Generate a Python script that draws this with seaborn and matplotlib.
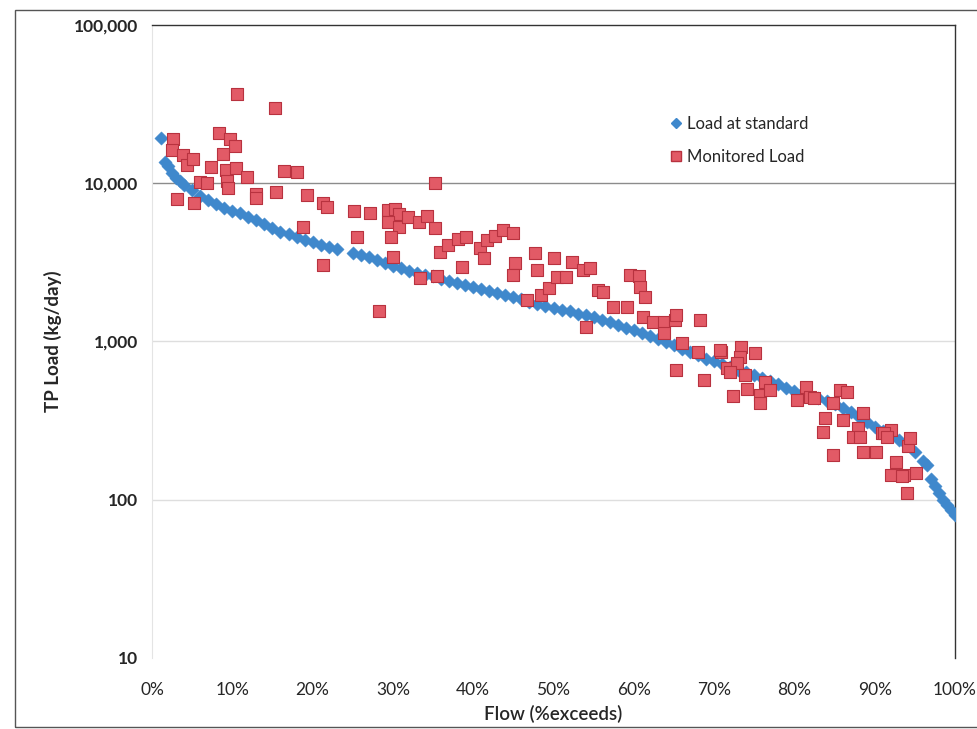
import matplotlib
matplotlib.use("Agg")
import matplotlib.pyplot as plt
import seaborn as sns
import pandas as pd
from matplotlib.patches import Rectangle
from matplotlib.ticker import FixedLocator, FuncFormatter, NullLocator
from matplotlib.lines import Line2D

# Load duration curve: allowable load at the water-quality standard
std_flow = [1.1, 1.6, 2.0, 2.5, 3.0, 3.5, 4.0, 5.0, 6.0, 7.0, 8.0, 9.0, 10.0, 11.0,
            12.0, 13.0, 14.0, 15.0, 16.0, 17.0, 18.0, 19.0, 20.0, 21.0, 22.0, 23.0,
            25.0, 26.0, 27.0, 28.0, 29.0, 30.0, 31.0, 32.0, 33.0, 34.0, 35.0, 36.0,
            37.0, 38.0, 39.0, 40.0, 41.0, 42.0, 43.0, 44.0, 45.0, 46.0, 47.0, 48.0,
            49.0, 50.0, 51.0, 52.0, 53.0, 54.0, 55.0, 56.0, 57.0, 58.0, 59.0, 60.0,
            61.0, 62.0, 63.0, 64.0, 65.0, 66.0, 67.0, 68.0, 69.0, 70.0, 71.0, 72.0,
            73.0, 74.0, 75.0, 76.0, 77.0, 78.0, 79.0, 80.0, 81.0, 82.0, 83.0, 84.0,
            85.0, 86.0, 87.0, 88.0, 89.0, 90.0, 91.0, 92.0, 93.0, 94.0, 95.0, 96.0,
            96.5, 97.0, 97.5, 98.0, 98.5, 99.0, 99.5, 100.0]
std_load = [19200, 13700, 12800, 11600, 10800, 10300, 9800, 9000, 8300, 7800, 7400,
            7000, 6700, 6450, 6150, 5850, 5550, 5250, 4950, 4800, 4600, 4400, 4250,
            4100, 3950, 3850, 3650, 3500, 3400, 3250, 3120, 3000, 2900, 2800, 2720,
            2650, 2600, 2500, 2420, 2350, 2270, 2200, 2150, 2080, 2020, 1960, 1900,
            1850, 1780, 1720, 1680, 1640, 1590, 1550, 1500, 1460, 1420, 1370, 1320,
            1270, 1220, 1180, 1130, 1080, 1030, 990, 950, 900, 860, 820, 780, 750,
            720, 690, 665, 640, 610, 585, 560, 535, 510, 490, 475, 460, 440, 420,
            400, 380, 360, 335, 312, 290, 272, 255, 240, 222, 200, 175, 165, 135,
            122, 110, 100, 93, 86, 80]

# Observed total phosphorus loads
mon_flow = [2.6, 2.5, 3.9, 4.3, 5.1, 3.1, 5.2, 6.0, 6.9, 8.3, 9.7, 10.3, 8.8, 7.3,
            9.2, 10.5, 9.4, 9.5, 11.8, 10.6, 15.3, 13.0, 13.0, 15.5, 16.4, 18.1,
            19.3, 21.3, 21.8, 18.8, 21.3,
            25.1, 27.2, 25.5, 29.4, 30.3, 30.7, 29.4, 30.7, 29.8, 30.0, 28.3, 31.9,
            33.3, 34.3, 35.2, 35.3, 33.4, 35.5, 35.9, 36.9, 38.1, 39.1, 38.6, 40.8,
            41.3, 41.7, 42.7, 43.7, 45.0, 45.2, 45.0, 47.7, 47.9, 46.7,
            50.0, 48.5, 49.4, 50.4, 51.6, 52.3, 53.7, 54.5, 54.0, 55.6, 56.2, 57.4,
            59.1, 59.5, 60.6, 60.8, 61.4, 61.2, 62.4, 63.7, 65.1, 65.3, 63.7, 66.0,
            68.2, 68.0, 65.3, 68.7, 70.9, 71.6,
            70.7, 73.4, 73.2, 72.8, 72.0, 75.1, 73.8, 74.1, 72.4, 76.3, 75.7, 75.7,
            77.0, 80.3, 81.5, 81.9, 82.5, 85.7, 84.8, 83.8, 83.6, 84.8, 86.1, 86.5,
            88.6, 87.9, 87.3, 88.2, 88.6, 90.2, 90.9, 92.0, 91.1, 91.5, 92.7, 92.0,
            93.6, 93.4, 94.0, 94.2, 94.4, 95.2]
mon_load = [19000, 16200, 15000, 13100, 14300, 8000, 7500, 10200, 10000, 20700,
            19000, 17200, 15300, 12600, 12100, 12400, 10300, 9300, 11000, 36600,
            29800, 8600, 8100, 8850, 12000, 11700, 8430, 7460, 7100, 5300, 3040,
            6710, 6500, 4550, 6800, 6900, 6400, 5710, 5310, 4590, 3440, 1566, 6100,
            5710, 6210, 5240, 10070, 2510, 2600, 3690, 4080, 4470, 4550, 2970, 3880,
            3360, 4390, 4650, 5080, 4820, 3120, 2630, 3640, 2830, 1830,
            3360, 1970, 2170, 2570, 2570, 3190, 2830, 2900, 1240, 2110, 2050, 1660,
            1660, 2630, 2590, 2220, 1920, 1436, 1335, 1335, 1360, 1470, 1130, 975,
            1360, 863, 661, 571, 863, 676,
            883, 927, 801, 728, 645, 841, 614, 499, 453, 557, 459, 407,
            494, 427, 518, 448, 440, 493, 406, 327, 269, 192, 319, 480,
            352, 283, 250, 250, 201, 201, 263, 276, 263, 250, 174, 143,
            143, 142, 110, 219, 244, 147]

y_ticks = [10, 100, 1000, 10000, 100000]
x_ticks = [0, 10, 20, 30, 40, 50, 60, 70, 80, 90, 100]

std_df = pd.DataFrame({"flow": std_flow, "load": std_load})
mon_df = pd.DataFrame({"flow": mon_flow, "load": mon_load})

sns.set_style("white")
plt.rcParams["font.family"] = ["Lato", "DejaVu Sans"]

fig = plt.figure(figsize=(9.78, 7.29), dpi=100)
ax = fig.add_axes([152 / 978, 1 - 658 / 729, 803 / 978, 633 / 729])

blue = "#3F88CC"
red_face = "#E25A66"
red_edge = "#B8323F"

sns.scatterplot(data=std_df, x="flow", y="load", ax=ax, marker="D", s=46,
                color=blue, edgecolor=blue, linewidth=0.3, zorder=3)
sns.scatterplot(data=mon_df, x="flow", y="load", ax=ax, marker="s", s=70,
                color=red_face, edgecolor=red_edge, linewidth=0.8, zorder=4)

ax.set_yscale("log")
ax.set_ylim(10, 100000)
ax.set_xlim(0, 100)
ax.yaxis.set_major_locator(FixedLocator(y_ticks))
ax.yaxis.set_minor_locator(NullLocator())
ax.yaxis.set_major_formatter(FuncFormatter(lambda v, p: f"{int(round(v)):,}"))
ax.xaxis.set_major_locator(FixedLocator(x_ticks))
ax.xaxis.set_major_formatter(FuncFormatter(lambda v, p: f"{int(round(v))}%"))

# Horizontal gridlines at each decade
for v in y_ticks[1:-1]:
    ax.axhline(v, color="#8c8c8c" if v == 10000 else "#dedede", lw=1.0, zorder=1)

ax.tick_params(axis="both", length=0)
ax.tick_params(axis="y", pad=10, labelsize=12.5)
ax.tick_params(axis="x", pad=17, labelsize=12.5)
for lab in ax.get_yticklabels():
    lab.set_fontweight("bold")

for side in ["top", "right"]:
    ax.spines[side].set_color("#333333")
    ax.spines[side].set_linewidth(1.0)
ax.spines["left"].set_color("#e4e4e4")
ax.spines["bottom"].set_visible(False)

ax.set_ylabel("TP Load (kg/day)", fontsize=13.5, fontweight="bold")
ax.set_xlabel("Flow (%exceeds)", fontsize=13.5, fontweight="semibold")
ax.yaxis.set_label_coords(-0.112, 0.50)
ax.xaxis.set_label_coords(0.50, -0.074)

handles = [
    Line2D([], [], marker="D", ls="none", color=blue, markersize=5),
    Line2D([], [], marker="s", ls="none", color=red_face, markeredgecolor=red_edge,
           markersize=6.5),
]
ax.legend(handles, ["Load at standard", "Monitored Load"], loc="upper left",
          bbox_to_anchor=(0.623, 0.88), frameon=False, fontsize=12,
          handletextpad=0.2, labelspacing=1.0, handlelength=1.0)

# Border around the whole chart
fig.add_artist(Rectangle((15 / 978, 1 - 727 / 729), 1.0, (727 - 10) / 729,
                         transform=fig.transFigure, fill=False,
                         edgecolor="#555555", lw=1.0))

fig.savefig("out.png", dpi=100, facecolor="white")
